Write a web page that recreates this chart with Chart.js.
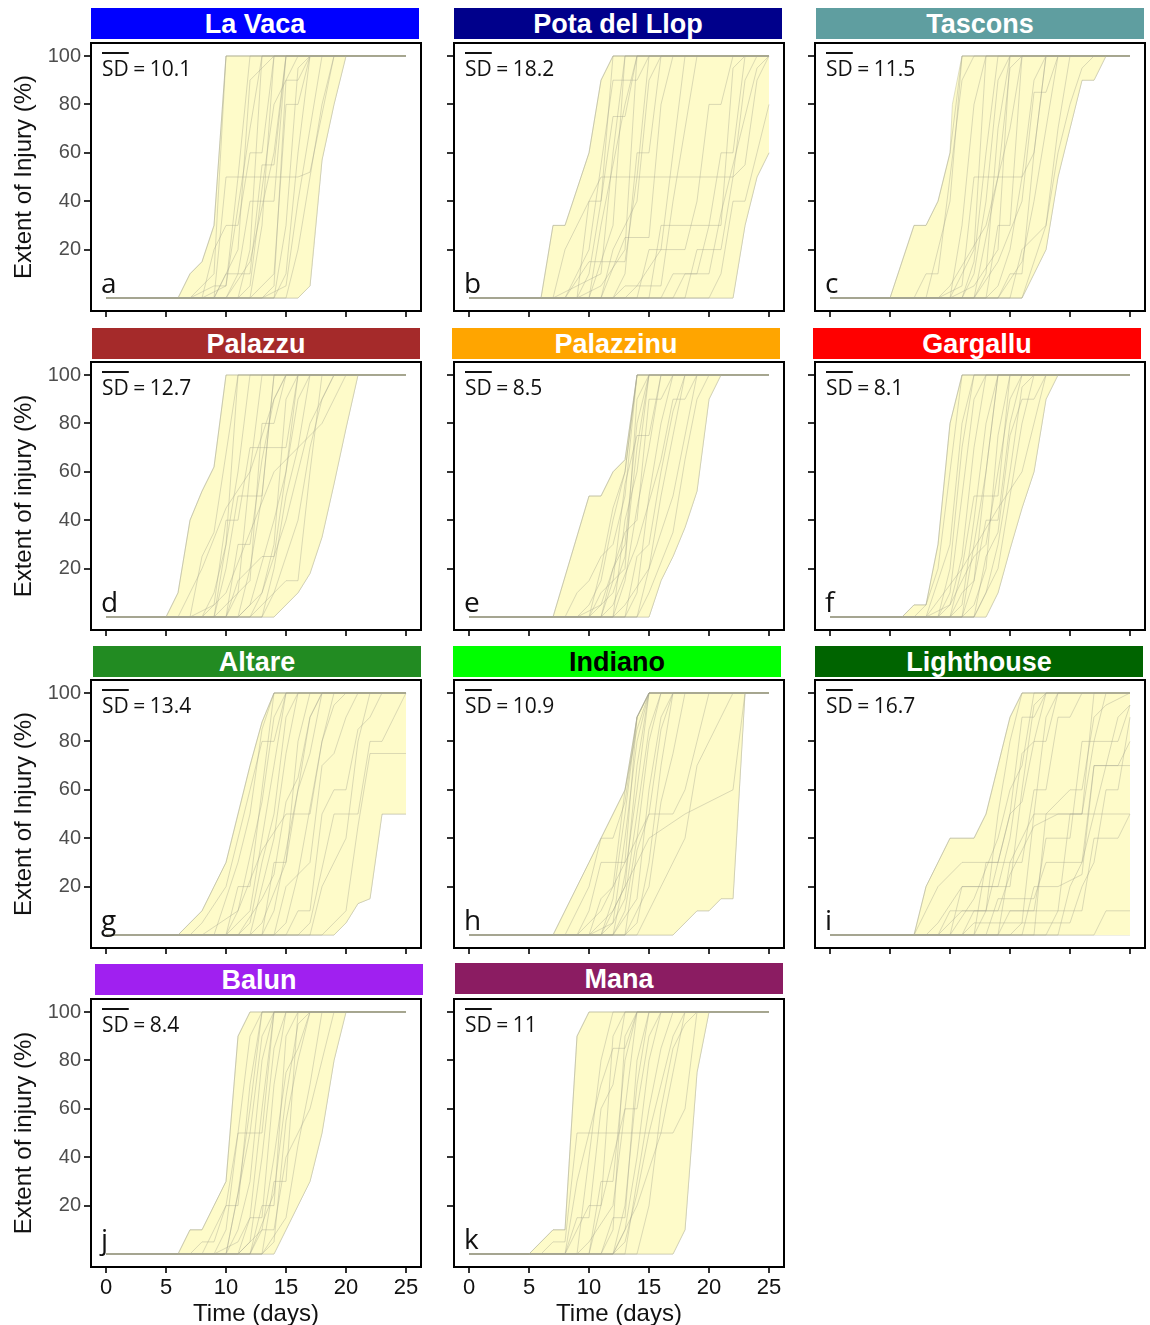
<!DOCTYPE html>
<html>
<head>
<meta charset="utf-8">
<script src="https://cdn.jsdelivr.net/npm/chart.js@4.4.0/dist/chart.umd.min.js"></script>
<style>
  body { margin: 0; background: #fff; }
  #fig { position: relative; width: 1150px; height: 1325px; overflow: hidden; font-family: "Liberation Sans", Arial, sans-serif; }
  .bar { position: absolute; height: 31px; line-height: 33px; text-align: center; font-weight: bold; font-size: 27px; color: #fff; }
  .panel { position: absolute; }
  .sd { position: absolute; font-family: "Open Sans", sans-serif; font-size: 21px; line-height: 26px; color: #111; white-space: nowrap; word-spacing: -1px; }
  .sd span { text-decoration: overline; text-decoration-thickness: 2px; }
  .letter { position: absolute; font-family: "Open Sans", sans-serif; font-size: 28px; line-height: 34px; color: #111; }
  .ytitle { position: absolute; width: 300px; height: 30px; line-height: 30px; text-align: center; font-size: 24px; color: #111; transform: rotate(-90deg); white-space: nowrap; }
  .xtitle { position: absolute; width: 300px; height: 30px; line-height: 30px; text-align: center; font-size: 24px; color: #111; white-space: nowrap; }
</style>
</head>
<body>
<div id="fig"></div>
<script>
// shared axis ticks
const xTicks = [0, 5, 10, 15, 20, 25];
const yTicks = [20, 40, 60, 80, 100];

const panelNames = ['La Vaca', 'Pota del Llop', 'Tascons', 'Palazzu', 'Palazzinu', 'Gargallu',
  'Altare', 'Indiano', 'Lighthouse', 'Balun', 'Mana'];
const panelColors = ['#0000FF', '#00008B', '#5F9EA0', '#A52A2A', '#FFA500', '#FF0000',
  '#228B22', '#00FF00', '#006400', '#A020F0', '#8B1C62'];
const panelLetters = ['a', 'b', 'c', 'd', 'e', 'f', 'g', 'h', 'i', 'j', 'k'];
const sdValues = ['10.1', '18.2', '11.5', '12.7', '8.5', '8.1', '13.4', '10.9', '16.7', '8.4', '11'];

// each trajectory: [day, extent %] points
const laVacaLines = [
  [[0,0],[9,0],[10,50],[16,50],[17,52],[19,100],[25,100]],
  [[0,0],[7,0],[8,5],[9,10],[10,100],[25,100]],
  [[0,0],[6,0],[7,10],[8,15],[9,30],[10,100],[25,100]],
  [[0,0],[8,0],[9,20],[10,30],[11,30],[12,60],[13,60],[14,100],[25,100]],
  [[0,0],[9,0],[10,10],[11,10],[12,40],[14,40],[15,100],[25,100]],
  [[0,0],[10,0],[11,10],[12,10],[13,55],[14,55],[15,100],[25,100]],
  [[0,0],[11,0],[12,20],[13,100],[25,100]],
  [[0,0],[8,0],[10,5],[12,70],[13,100],[25,100]],
  [[0,0],[12,0],[13,30],[14,100],[25,100]],
  [[0,0],[12,0],[14,10],[15,80],[16,80],[17,100],[25,100]],
  [[0,0],[13,0],[14,5],[15,90],[16,90],[17,100],[25,100]],
  [[0,0],[10,0],[12,15],[14,60],[15,100],[25,100]],
  [[0,0],[14,0],[15,10],[16,60],[17,100],[25,100]],
  [[0,0],[13,0],[15,5],[16,40],[18,100],[25,100]],
  [[0,0],[11,0],[12,5],[13,45],[14,80],[16,100],[25,100]],
  [[0,0],[15,0],[16,20],[18,80],[19,100],[25,100]],
  [[0,0],[16,0],[17,5],[18,57],[19,80],[20,100],[25,100]],
  [[0,0],[9,0],[11,20],[12,90],[14,100],[25,100]],
  [[0,0],[7,0],[9,5],[10,5],[11,50],[12,100],[25,100]],
  [[0,0],[14,0],[15,30],[16,95],[17,100],[25,100]]
];
const laVacaUpper = [[0,0],[6,0],[7,10],[8,15],[9,30],[10,100],[25,100]];
const laVacaLower = [[0,0],[16,0],[17,5],[17.3,20],[18,57],[19,80],[20,100],[25,100]];

const potaLines = [
  [[0,0],[6,0],[7,30],[8,30],[10,60],[11,90],[12,100],[25,100]],
  [[0,0],[7,0],[8,20],[11,50],[22,50],[23,55],[24,90],[25,100]],
  [[0,0],[8,0],[9,10],[10,20],[12,90],[14,90],[15,100],[25,100]],
  [[0,0],[9,0],[10,10],[11,40],[12,75],[13,75],[14,100],[25,100]],
  [[0,0],[7,0],[9,5],[11,10],[12,60],[13,100],[25,100]],
  [[0,0],[10,0],[11,15],[12,30],[13,100],[25,100]],
  [[0,0],[9,0],[11,5],[13,20],[14,100],[25,100]],
  [[0,0],[8,0],[10,15],[13,15],[14,50],[15,100],[25,100]],
  [[0,0],[12,0],[13,10],[14,60],[15,60],[16,100],[25,100]],
  [[0,0],[11,0],[13,25],[15,25],[16,80],[17,100],[25,100]],
  [[0,0],[13,0],[14,5],[16,20],[17,60],[18,100],[25,100]],
  [[0,0],[14,0],[15,20],[18,20],[19,40],[20,80],[21,80],[22,100],[25,100]],
  [[0,0],[16,0],[17,10],[19,10],[20,30],[21,30],[22,95],[23,100],[25,100]],
  [[0,0],[18,0],[19,20],[21,20],[22,50],[23,90],[24,100],[25,100]],
  [[0,0],[20,0],[21,10],[22,40],[23,40],[24,60],[25,80]],
  [[0,0],[22,0],[23,30],[24,50],[25,60]],
  [[0,0],[15,0],[16,30],[20,30],[21,60],[22,60],[23,100],[25,100]],
  [[0,0],[10,0],[11,30],[13,80],[14,100],[25,100]],
  [[0,0],[12,0],[13,5],[16,5],[17,40],[19,100],[25,100]],
  [[0,0],[17,0],[18,10],[20,10],[21,35],[24,95],[25,100]],
  [[0,0],[9,0],[10,40],[11,40],[12,100],[25,100]],
  [[0,0],[11,0],[12,20],[14,40],[15,90],[16,100],[25,100]]
];
const potaUpper = [[0,0],[6,0],[7,30],[8,30],[10,60],[11,90],[12,100],[25,100]];
const potaLower = [[0,0],[22,0],[23,30],[24,50],[25,60]];

const tasconsLines = [
  [[0,0],[5,0],[7,30],[8,30],[9,40],[10,60],[11,100],[25,100]],
  [[0,0],[7,0],[8,10],[9,10],[10,50],[11,90],[12,100],[25,100]],
  [[0,0],[8,0],[9,20],[10,40],[11,100],[25,100]],
  [[0,0],[9,0],[11,5],[12,50],[16,50],[17,60],[18,100],[25,100]],
  [[0,0],[10,0],[11,10],[12,20],[13,100],[25,100]],
  [[0,0],[11,0],[12,15],[13,60],[14,100],[25,100]],
  [[0,0],[10,0],[12,5],[14,20],[15,100],[25,100]],
  [[0,0],[12,0],[13,10],[14,70],[15,100],[25,100]],
  [[0,0],[13,0],[14,30],[15,30],[16,100],[25,100]],
  [[0,0],[14,0],[15,10],[16,10],[17,60],[18,100],[25,100]],
  [[0,0],[9,0],[10,5],[13,30],[15,70],[16,100],[25,100]],
  [[0,0],[12,0],[14,15],[16,40],[17,85],[18,85],[19,100],[25,100]],
  [[0,0],[15,0],[16,20],[18,30],[19,70],[20,100],[25,100]],
  [[0,0],[16,0],[17,10],[18,20],[19,50],[20,70],[21,90],[22,90],[23,100],[25,100]],
  [[0,0],[13,0],[14,5],[15,20],[16,50],[17,90],[18,100],[25,100]],
  [[0,0],[11,0],[12,10],[13,40],[14,90],[15,100],[25,100]],
  [[0,0],[14,0],[16,15],[17,40],[19,100],[25,100]],
  [[0,0],[12,0],[13,25],[14,50],[15,95],[16,100],[25,100]],
  [[0,0],[16,0],[17,15],[18,30],[19,60],[20,80],[21,95],[22,100],[25,100]],
  [[0,0],[10,0],[11,30],[12,80],[13,100],[25,100]]
];
const tasconsUpper = [[0,0],[5,0],[7,30],[8,30],[9,40],[10,60],[10.2,80],[11,100],[25,100]];
const tasconsLower = [[0,0],[16,0],[17,10],[18,20],[19,50],[20,70],[21,90],[22,90],[23,100],[25,100]];

const palazzuLines = [
  [[0,0],[5,0],[6,10],[7,40],[8,52],[9,62],[10,100],[25,100]],
  [[0,0],[7,0],[8,25],[9,35],[11,100],[25,100]],
  [[0,0],[8,0],[9,10],[10,30],[11,100],[25,100]],
  [[0,0],[9,0],[10,20],[11,50],[13,50],[14,100],[25,100]],
  [[0,0],[7,0],[9,5],[10,40],[11,40],[12,70],[15,70],[16,100],[25,100]],
  [[0,0],[10,0],[11,10],[12,60],[13,100],[25,100]],
  [[0,0],[9,0],[10,5],[12,15],[13,80],[14,80],[15,100],[25,100]],
  [[0,0],[11,0],[12,20],[13,50],[14,100],[25,100]],
  [[0,0],[8,0],[10,10],[14,60],[18,80],[20,100],[25,100]],
  [[0,0],[12,0],[13,10],[14,30],[15,90],[16,100],[25,100]],
  [[0,0],[10,0],[11,30],[12,30],[13,65],[14,90],[15,100],[25,100]],
  [[0,0],[13,0],[14,20],[15,50],[16,70],[17,100],[25,100]],
  [[0,0],[12,0],[13,5],[15,15],[16,15],[17,60],[18,100],[25,100]],
  [[0,0],[14,0],[16,10],[17,18],[18,33],[19,55],[20,78],[21,100],[25,100]],
  [[0,0],[11,0],[13,10],[15,40],[17,80],[19,100],[25,100]],
  [[0,0],[6,0],[8,20],[10,45],[12,60],[14,90],[15,100],[25,100]],
  [[0,0],[11,0],[12,5],[14,40],[15,60],[16,90],[17,100],[25,100]],
  [[0,0],[13,0],[14,10],[16,40],[17,70],[18,90],[19,100],[25,100]],
  [[0,0],[10,0],[11,15],[13,25],[14,25],[15,60],[16,100],[25,100]],
  [[0,0],[9,0],[10,30],[11,60],[12,100],[25,100]]
];
const palazzuUpper = [[0,0],[5,0],[6,10],[7,40],[8,52],[9,62],[10,100],[25,100]];
const palazzuLower = [[0,0],[14,0],[16,10],[17,18],[18,33],[19,55],[20,78],[21,100],[25,100]];

const palazzinuLines = [
  [[0,0],[7,0],[10,50],[11,50],[12,60],[13,65],[14,100],[25,100]],
  [[0,0],[8,0],[9,10],[10,15],[11,25],[12,30],[13,50],[14,100],[25,100]],
  [[0,0],[9,0],[10,5],[11,15],[12,40],[13,60],[14,100],[25,100]],
  [[0,0],[10,0],[11,10],[13,20],[14,90],[15,100],[25,100]],
  [[0,0],[11,0],[12,20],[13,30],[14,80],[15,100],[25,100]],
  [[0,0],[12,0],[13,40],[14,60],[15,100],[25,100]],
  [[0,0],[9,0],[11,5],[13,35],[14,40],[15,90],[16,90],[17,100],[25,100]],
  [[0,0],[12,0],[13,15],[14,45],[15,70],[16,100],[25,100]],
  [[0,0],[13,0],[14,10],[15,50],[16,80],[17,100],[25,100]],
  [[0,0],[11,0],[12,5],[14,30],[16,65],[17,90],[18,90],[19,100],[25,100]],
  [[0,0],[14,0],[15,20],[16,50],[17,75],[18,100],[25,100]],
  [[0,0],[15,0],[16,15],[17,25],[18,37],[19,52],[20,90],[21,100],[25,100]],
  [[0,0],[13,0],[14,25],[15,30],[16,60],[17,85],[18,100],[25,100]],
  [[0,0],[10,0],[12,10],[13,25],[14,70],[15,100],[25,100]],
  [[0,0],[12,0],[13,5],[15,20],[17,50],[19,100],[25,100]],
  [[0,0],[11,0],[12,15],[13,55],[14,75],[15,75],[16,100],[25,100]],
  [[0,0],[14,0],[15,10],[17,35],[18,65],[19,90],[20,100],[25,100]],
  [[0,0],[10,0],[11,20],[12,45],[13,60],[14,100],[25,100]]
];
const palazzinuUpper = [[0,0],[7,0],[10,50],[11,50],[12,60],[13,65],[14,100],[25,100]];
const palazzinuLower = [[0,0],[15,0],[16,15],[17,25],[18,37],[19,52],[20,90],[21,100],[25,100]];

const gargalluLines = [
  [[0,0],[6,0],[7,5],[8,5],[9,30],[10,80],[11,100],[25,100]],
  [[0,0],[7,0],[8,5],[9,20],[10,60],[11,100],[25,100]],
  [[0,0],[8,0],[9,15],[10,30],[11,80],[12,100],[25,100]],
  [[0,0],[9,0],[10,10],[11,50],[12,90],[13,100],[25,100]],
  [[0,0],[8,0],[10,5],[11,25],[12,70],[13,100],[25,100]],
  [[0,0],[10,0],[11,20],[12,50],[14,50],[15,100],[25,100]],
  [[0,0],[10,0],[11,5],[12,40],[13,80],[14,100],[25,100]],
  [[0,0],[11,0],[12,15],[13,40],[14,40],[15,80],[16,100],[25,100]],
  [[0,0],[9,0],[10,5],[12,25],[13,30],[14,60],[15,90],[16,100],[25,100]],
  [[0,0],[12,0],[13,10],[14,30],[15,60],[16,95],[17,100],[25,100]],
  [[0,0],[8,0],[11,20],[14,45],[16,60],[18,100],[25,100]],
  [[0,0],[11,0],[12,5],[13,20],[14,75],[15,100],[25,100]],
  [[0,0],[13,0],[14,10],[15,28],[16,45],[17,60],[18,90],[19,100],[25,100]],
  [[0,0],[12,0],[13,25],[14,35],[15,75],[16,90],[17,90],[18,100],[25,100]],
  [[0,0],[10,0],[11,10],[12,15],[13,60],[14,100],[25,100]],
  [[0,0],[11,0],[12,30],[13,60],[14,100],[25,100]],
  [[0,0],[12,0],[14,20],[15,50],[16,80],[17,100],[25,100]],
  [[0,0],[9,0],[10,20],[11,70],[12,100],[25,100]]
];
const gargalluUpper = [[0,0],[6,0],[7,5],[8,5],[9,30],[10,80],[11,100],[25,100]];
const gargalluLower = [[0,0],[13,0],[14,10],[15,28],[16,45],[17,60],[18,90],[19,100],[25,100]];

const altareLines = [
  [[0,0],[6,0],[7,5],[8,10],[9,20],[10,30],[11,50],[12,70],[13,88],[14,100],[25,100]],
  [[0,0],[7,0],[8,5],[10,20],[11,40],[12,60],[13,80],[14,80],[15,100],[25,100]],
  [[0,0],[9,0],[10,15],[11,30],[12,50],[13,85],[14,100],[25,100]],
  [[0,0],[10,0],[11,20],[12,20],[13,60],[14,100],[25,100]],
  [[0,0],[10,0],[12,10],[13,40],[14,70],[15,100],[25,100]],
  [[0,0],[11,0],[12,5],[13,30],[14,50],[15,90],[16,100],[25,100]],
  [[0,0],[12,0],[13,20],[14,40],[15,75],[16,100],[25,100]],
  [[0,0],[8,0],[11,10],[13,35],[15,50],[17,50],[18,80],[19,100],[25,100]],
  [[0,0],[12,0],[13,5],[15,30],[16,80],[17,100],[25,100]],
  [[0,0],[13,0],[14,10],[16,60],[17,90],[18,100],[25,100]],
  [[0,0],[14,0],[15,20],[17,30],[18,70],[19,75],[20,90],[21,100],[25,100]],
  [[0,0],[15,0],[16,10],[17,10],[18,50],[19,60],[20,60],[21,85],[22,90],[23,100],[25,100]],
  [[0,0],[16,0],[17,5],[19,50],[21,50],[22,80],[23,80],[24,90],[25,100]],
  [[0,0],[19,0],[20,5],[21,13],[22,15],[23,50],[25,50]],
  [[0,0],[18,0],[20,10],[21,45],[22,75],[25,75]],
  [[0,0],[11,0],[13,15],[14,25],[15,55],[16,65],[17,90],[18,100],[25,100]],
  [[0,0],[13,0],[14,30],[15,30],[16,60],[17,75],[18,100],[25,100]],
  [[0,0],[14,0],[15,5],[16,25],[18,80],[19,95],[20,100],[25,100]],
  [[0,0],[10,0],[11,10],[13,55],[14,90],[15,100],[25,100]],
  [[0,0],[17,0],[18,20],[20,40],[21,80],[22,100],[25,100]]
];
const altareUpper = [[0,0],[6,0],[7,5],[8,10],[9,20],[10,30],[11,50],[12,70],[13,88],[14,100],[25,100]];
const altareLower = [[0,0],[19,0],[20,5],[21,13],[22,15],[23,50],[25,50]];

const indianoLines = [
  [[0,0],[7,0],[10,30],[11,40],[12,50],[13,60],[14,90],[15,100],[25,100]],
  [[0,0],[8,0],[10,20],[11,40],[12,40],[13,55],[14,90],[15,100],[25,100]],
  [[0,0],[9,0],[10,10],[11,30],[13,30],[14,90],[15,100],[25,100]],
  [[0,0],[10,0],[11,15],[12,20],[13,60],[14,85],[15,100],[25,100]],
  [[0,0],[10,0],[12,10],[13,20],[14,70],[15,100],[25,100]],
  [[0,0],[11,0],[12,5],[13,15],[14,50],[15,85],[16,100],[25,100]],
  [[0,0],[12,0],[13,10],[14,40],[15,80],[16,100],[25,100]],
  [[0,0],[9,0],[11,10],[13,30],[15,50],[17,50],[18,60],[19,80],[20,100],[25,100]],
  [[0,0],[12,0],[13,25],[14,60],[15,100],[25,100]],
  [[0,0],[13,0],[14,5],[15,30],[16,70],[17,100],[25,100]],
  [[0,0],[13,0],[15,20],[16,55],[17,75],[18,100],[25,100]],
  [[0,0],[11,0],[13,20],[15,40],[18,50],[20,55],[22,60],[23,100],[25,100]],
  [[0,0],[14,0],[16,20],[18,40],[19,70],[20,80],[21,90],[22,100],[25,100]],
  [[0,0],[17,0],[19,10],[20,10],[21,15],[22,15],[23,100],[25,100]],
  [[0,0],[10,0],[12,5],[13,40],[14,80],[15,100],[25,100]],
  [[0,0],[11,0],[12,15],[13,50],[14,90],[15,100],[25,100]],
  [[0,0],[12,0],[14,15],[15,60],[16,90],[17,100],[25,100]],
  [[0,0],[13,0],[14,35],[15,50],[16,85],[17,100],[25,100]]
];
const indianoUpper = [[0,0],[7,0],[10,30],[11,40],[12,50],[13,60],[14,90],[15,100],[25,100]];
const indianoLower = [[0,0],[17,0],[19,10],[20,10],[21,15],[22,15],[23,100],[25,100]];

const lighthouseLines = [
  [[0,0],[7,0],[8,20],[10,40],[12,40],[13,50],[14,70],[15,90],[16,100],[25,100]],
  [[0,0],[7,0],[8,10],[9,20],[11,30],[14,30],[15,50],[16,90],[17,90],[18,100],[25,100]],
  [[0,0],[8,0],[9,5],[11,20],[14,20],[15,40],[16,75],[17,80],[18,100],[25,100]],
  [[0,0],[9,0],[10,10],[13,10],[14,50],[15,80],[16,100],[25,100]],
  [[0,0],[10,0],[11,20],[15,20],[16,60],[17,95],[18,100],[25,100]],
  [[0,0],[11,0],[12,5],[16,5],[17,50],[21,50],[22,100],[25,100]],
  [[0,0],[12,0],[13,30],[16,30],[17,60],[18,60],[19,90],[20,90],[21,100],[25,100]],
  [[0,0],[9,0],[11,10],[17,10],[18,40],[20,40],[21,80],[22,80],[23,100],[25,100]],
  [[0,0],[13,0],[14,15],[17,15],[18,30],[21,30],[22,70],[24,70],[25,80]],
  [[0,0],[14,0],[15,10],[19,10],[20,50],[21,50],[22,80],[24,80],[25,95]],
  [[0,0],[15,0],[16,5],[20,5],[21,20],[22,30],[23,60],[24,60],[25,90]],
  [[0,0],[16,0],[17,20],[19,20],[21,25],[22,70],[25,70]],
  [[0,0],[18,0],[19,10],[21,10],[22,40],[24,40],[25,50]],
  [[0,0],[22,0],[23,10],[25,10]],
  [[0,0],[17,0],[18,50],[20,60],[21,60],[22,90],[23,95],[25,100]],
  [[0,0],[10,0],[12,15],[14,40],[15,60],[16,70],[17,100],[25,100]],
  [[0,0],[12,0],[13,10],[15,50],[16,55],[17,80],[18,80],[19,100],[25,100]],
  [[0,0],[14,0],[15,30],[17,50],[18,90],[19,100],[25,100]],
  [[0,0],[19,0],[20,20],[21,30],[22,50],[25,50]],
  [[0,0],[11,0],[12,10],[14,10],[15,25],[17,45],[19,50],[22,50],[23,70],[24,90],[25,95]]
];
const lighthouseUpper = [[0,0],[7,0],[8,20],[10,40],[12,40],[13,50],[14,70],[15,90],[16,100],[25,100]];
const lighthouseLower = [[0,0],[25,0]];

const balunLines = [
  [[0,0],[6,0],[7,10],[8,10],[9,20],[10,30],[11,90],[12,100],[25,100]],
  [[0,0],[7,0],[8,5],[9,5],[10,20],[11,50],[12,90],[13,100],[25,100]],
  [[0,0],[8,0],[9,10],[10,20],[11,20],[12,70],[13,100],[25,100]],
  [[0,0],[9,0],[10,10],[11,50],[13,50],[14,100],[25,100]],
  [[0,0],[9,0],[11,5],[12,15],[13,60],[14,100],[25,100]],
  [[0,0],[10,0],[11,10],[12,30],[13,80],[14,100],[25,100]],
  [[0,0],[11,0],[12,15],[13,15],[14,70],[15,100],[25,100]],
  [[0,0],[12,0],[13,20],[14,20],[15,90],[16,100],[25,100]],
  [[0,0],[13,0],[14,30],[15,30],[16,100],[25,100]],
  [[0,0],[11,0],[13,10],[14,40],[15,75],[16,85],[17,100],[25,100]],
  [[0,0],[12,0],[13,10],[14,10],[15,40],[17,60],[18,80],[19,100],[25,100]],
  [[0,0],[14,0],[15,10],[16,20],[17,30],[18,50],[19,80],[20,100],[25,100]],
  [[0,0],[10,0],[11,25],[12,60],[13,100],[25,100]],
  [[0,0],[13,0],[14,5],[15,55],[16,80],[17,100],[25,100]],
  [[0,0],[12,0],[14,25],[15,65],[16,95],[17,100],[25,100]],
  [[0,0],[11,0],[12,5],[13,40],[14,85],[15,100],[25,100]],
  [[0,0],[10,0],[12,50],[13,90],[14,100],[25,100]],
  [[0,0],[13,0],[15,15],[16,45],[17,70],[18,100],[25,100]]
];
const balunUpper = [[0,0],[6,0],[7,10],[8,10],[9,20],[10,30],[11,90],[12,100],[25,100]];
const balunLower = [[0,0],[14,0],[15,10],[16,20],[17,30],[18,50],[19,80],[20,100],[25,100]];

const manaLines = [
  [[0,0],[5,0],[7,10],[8,10],[9,90],[10,100],[25,100]],
  [[0,0],[6,0],[7,5],[8,5],[9,50],[10,50],[11,70],[12,85],[13,85],[14,100],[25,100]],
  [[0,0],[8,0],[9,30],[10,50],[17,50],[18,60],[19,100],[25,100]],
  [[0,0],[8,0],[9,10],[10,20],[11,20],[12,90],[13,100],[25,100]],
  [[0,0],[9,0],[10,40],[11,80],[12,100],[25,100]],
  [[0,0],[9,0],[10,5],[12,20],[13,60],[14,100],[25,100]],
  [[0,0],[11,0],[12,15],[13,15],[14,80],[15,100],[25,100]],
  [[0,0],[12,0],[13,20],[14,70],[15,100],[25,100]],
  [[0,0],[12,0],[13,10],[14,40],[15,80],[16,100],[25,100]],
  [[0,0],[10,0],[11,20],[13,60],[14,60],[15,90],[16,100],[25,100]],
  [[0,0],[13,0],[14,30],[15,60],[16,85],[17,100],[25,100]],
  [[0,0],[12,0],[14,20],[16,50],[17,75],[18,100],[25,100]],
  [[0,0],[17,0],[18,10],[19,75],[20,100],[25,100]],
  [[0,0],[11,0],[12,10],[13,90],[14,100],[25,100]],
  [[0,0],[12,0],[13,5],[14,25],[15,50],[16,70],[17,90],[18,100],[25,100]],
  [[0,0],[10,0],[11,30],[12,30],[13,80],[14,100],[25,100]],
  [[0,0],[14,0],[15,20],[16,60],[17,85],[18,95],[19,100],[25,100]],
  [[0,0],[8,0],[9,15],[10,15],[11,60],[12,70],[13,100],[25,100]]
];
const manaUpper = [[0,0],[5,0],[7,10],[8,10],[9,90],[10,100],[25,100]];
const manaLower = [[0,0],[17,0],[18,10],[19,75],[20,100],[25,100]];

const allLines = [laVacaLines, potaLines, tasconsLines, palazzuLines, palazzinuLines, gargalluLines,
  altareLines, indianoLines, lighthouseLines, balunLines, manaLines];
const allUpper = [laVacaUpper, potaUpper, tasconsUpper, palazzuUpper, palazzinuUpper, gargalluUpper,
  altareUpper, indianoUpper, lighthouseUpper, balunUpper, manaUpper];
const allLower = [laVacaLower, potaLower, tasconsLower, palazzuLower, palazzinuLower, gargalluLower,
  altareLower, indianoLower, lighthouseLower, balunLower, manaLower];

// layout
const boxLeft = [91, 454, 815];
const boxTop = [43, 362, 680, 999];
const BOX_W = 330, BOX_H = 268;
const Y_AXIS_W = 70, X_AXIS_H = 40, PAD = 5;
const barPos = [[91,8],[454,8],[816,8],[92,328],[452,328],[813,328],[93,646],[453,646],[815,646],[95,964],[455,963]];
const yTitles = ['Extent of Injury (%)', 'Extent of injury (%)', 'Extent of Injury (%)', 'Extent of injury (%)'];

const LINE_COLOR = 'rgba(165,165,145,0.4)';
const EDGE_COLOR = 'rgba(205,205,170,0.6)';
const FILL_COLOR = '#FEFBC9';

const fig = document.getElementById('fig');

const framePlugin = {
  id: 'frame',
  afterDraw(chart) {
    const { ctx, chartArea: a } = chart;
    ctx.save();
    ctx.strokeStyle = '#000';
    ctx.lineWidth = 2;
    ctx.strokeRect(a.left, a.top, a.right - a.left, a.bottom - a.top);
    ctx.restore();
  }
};

function toXY(pts) {
  return pts.map(p => ({ x: p[0], y: p[1] }));
}

function addDiv(cls, html, style) {
  const d = document.createElement('div');
  d.className = cls;
  d.innerHTML = html;
  Object.assign(d.style, style);
  fig.appendChild(d);
  return d;
}

panelNames.forEach((name, i) => {
  const col = i % 3, row = Math.floor(i / 3);
  const bl = boxLeft[col], bt = boxTop[row];
  const showY = col === 0;
  const showX = row === 3;

  // strip title
  addDiv('bar', name, {
    left: barPos[i][0] + 'px', top: barPos[i][1] + 'px', width: '328px',
    background: panelColors[i], color: name === 'Indiano' ? '#000' : '#fff'
  });

  const cv = document.createElement('canvas');
  cv.className = 'panel';
  const W = Y_AXIS_W + BOX_W + PAD, H = PAD + BOX_H + X_AXIS_H;
  cv.width = W; cv.height = H;
  cv.style.left = (bl - Y_AXIS_W) + 'px';
  cv.style.top = (bt - PAD) + 'px';
  cv.style.width = W + 'px'; cv.style.height = H + 'px';
  fig.appendChild(cv);

  const datasets = allLines[i].map(l => ({
    data: toXY(l), borderColor: LINE_COLOR, borderWidth: 1, pointRadius: 0, fill: false, order: 1
  }));
  datasets.push({
    data: toXY(allUpper[i]), borderColor: EDGE_COLOR, borderWidth: 1, pointRadius: 0,
    backgroundColor: FILL_COLOR, fill: '+1', order: 2
  });
  datasets.push({
    data: toXY(allLower[i]), borderColor: EDGE_COLOR, borderWidth: 1, pointRadius: 0,
    fill: false, order: 2
  });

  new Chart(cv, {
    type: 'line',
    data: { datasets },
    plugins: [framePlugin],
    options: {
      responsive: false,
      animation: false,
      events: [],
      layout: { autoPadding: false, padding: { top: PAD, right: PAD, left: 0, bottom: 0 } },
      plugins: { legend: { display: false }, tooltip: { enabled: false } },
      elements: { line: { tension: 0 } },
      scales: {
        x: {
          type: 'linear', min: -1.25, max: 26.25,
          afterBuildTicks: s => { s.ticks = xTicks.map(v => ({ value: v })); },
          afterFit: s => { s.height = X_AXIS_H; s.paddingLeft = 0; s.paddingRight = 0; },
          grid: { drawOnChartArea: false, drawTicks: true, tickLength: 6, color: '#333', lineWidth: 2 },
          border: { display: false },
          ticks: { display: showX, color: '#111', padding: 2, maxRotation: 0,
            font: { size: 22, family: 'Liberation Sans' }, callback: v => String(v) }
        },
        y: {
          type: 'linear', min: -5.37, max: 105.37,
          afterBuildTicks: s => { s.ticks = yTicks.map(v => ({ value: v })); },
          afterFit: s => { s.width = Y_AXIS_W; s.paddingTop = 0; s.paddingBottom = 0; },
          grid: { drawOnChartArea: false, drawTicks: true, tickLength: 7, color: '#333', lineWidth: 2 },
          border: { display: false },
          ticks: { display: showY, color: '#4d4d4d', padding: 3,
            font: { size: 20, family: 'Liberation Sans' }, callback: v => String(v) }
        }
      }
    }
  });

  // SD annotation and panel letter
  addDiv('sd', '<span>SD</span> = ' + sdValues[i], { left: (bl + 11) + 'px', top: (bt + 12) + 'px' });
  addDiv('letter', panelLetters[i], { left: (bl + 10) + 'px', top: (bt + 222) + 'px' });

  if (showX) {
    addDiv('xtitle', 'Time (days)', { left: (bl + BOX_W / 2 - 150) + 'px', top: '1298px' });
  }
  if (showY) {
    addDiv('ytitle', yTitles[row], { left: (23 - 150) + 'px', top: (bt + BOX_H / 2 - 15) + 'px' });
  }
});
</script>
</body>
</html>
